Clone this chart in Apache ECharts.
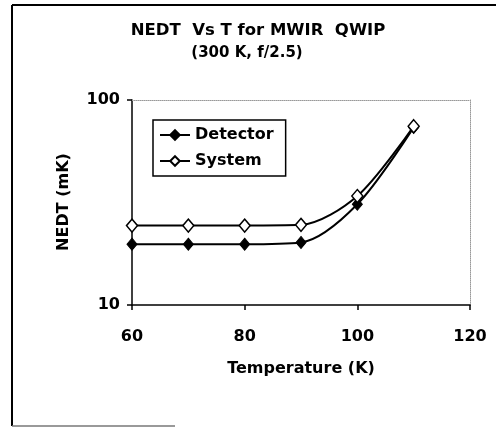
<!DOCTYPE html>
<html>
<head>
<meta charset="utf-8">
<script src="https://cdn.jsdelivr.net/npm/echarts@6/dist/echarts.min.js"></script>
<style>html,body{margin:0;padding:0;background:#fff;}#c{width:496px;height:428px;}</style>
</head>
<body>
<div id="c"></div>
<script>
const temps = [60, 70, 80, 90, 100, 110];
const detector = [19.8, 19.8, 19.8, 20.2, 31.0, 73.5];
const system = [24.4, 24.4, 24.4, 24.6, 34.0, 74.5];
const xTicks = [60, 80, 100, 120];
const yTicks = [10, 100];
const titleLine1 = 'NEDT  Vs T for MWIR  QWIP';
const titleLine2 = '(300 K, f/2.5)';

const FONT = 'DejaVu Sans';
const chart = echarts.init(document.getElementById('c'), null, {renderer: 'canvas'});
const toPairs = arr => temps.map((t, i) => [t, arr[i]]);

chart.setOption({
  animation: false,
  backgroundColor: '#fff',
  grid: {left: 132, right: 26, top: 100, bottom: 123},
  legend: {
    orient: 'vertical', left: 153, top: 120,
    borderColor: '#000', borderWidth: 1.5, padding: [7, 12, 7, 6],
    itemWidth: 30, itemHeight: 12, itemGap: 10,
    textStyle: {fontFamily: FONT, fontWeight: 'bold', fontSize: 16, color: '#000'},
    data: ['Detector', 'System']
  },
  xAxis: [{
    type: 'value', min: xTicks[0], max: xTicks[xTicks.length - 1], interval: 20,
    axisLine: {lineStyle: {color: '#000', width: 1.5}},
    axisTick: {show: true, length: 5, lineStyle: {color: '#000', width: 1.5}},
    splitLine: {show: false},
    axisLabel: {margin: 24, fontFamily: FONT, fontWeight: 'bold', fontSize: 16, color: '#000'},
    name: 'Temperature (K)', nameLocation: 'middle', nameGap: 56,
    nameTextStyle: {fontFamily: FONT, fontWeight: 'bold', fontSize: 16, color: '#000'}
  }, {
    type: 'value', position: 'top', min: xTicks[0], max: xTicks[xTicks.length - 1],
    axisLine: {show: true, lineStyle: {color: '#999', type: 'dotted', width: 1}},
    axisTick: {show: false}, axisLabel: {show: false}, splitLine: {show: false}
  }],
  yAxis: [{
    type: 'log', logBase: 10, min: yTicks[0], max: yTicks[yTicks.length - 1],
    axisLine: {show: true, lineStyle: {color: '#000', width: 1.5}},
    axisTick: {show: true, length: 5, lineStyle: {color: '#000', width: 1.5}},
    splitLine: {show: false}, minorTick: {show: false},
    axisLabel: {margin: 12, fontFamily: FONT, fontWeight: 'bold', fontSize: 16, color: '#000'}
  }, {
    type: 'log', logBase: 10, position: 'right', min: yTicks[0], max: yTicks[yTicks.length - 1],
    axisLine: {show: true, lineStyle: {color: '#999', type: 'dotted', width: 1}},
    axisTick: {show: false}, axisLabel: {show: false}, splitLine: {show: false}
  }],
  graphic: [
    {type: 'line', shape: {x1: 12, y1: 5, x2: 496, y2: 5}, style: {stroke: '#000', lineWidth: 2}},
    {type: 'line', shape: {x1: 12, y1: 5, x2: 12, y2: 426}, style: {stroke: '#000', lineWidth: 2}},
    {type: 'line', shape: {x1: 12, y1: 426, x2: 175, y2: 426}, style: {stroke: '#777', lineWidth: 1.5}},
    {type: 'text', x: 258, y: 31, style: {text: titleLine1, fontFamily: FONT, fontWeight: 'bold', fontSize: 16.5, fill: '#000', align: 'center', verticalAlign: 'middle'}},
    {type: 'text', x: 247, y: 53, style: {text: titleLine2, fontFamily: FONT, fontWeight: 'bold', fontSize: 15, fill: '#000', align: 'center', verticalAlign: 'middle'}},
    {type: 'text', x: 64, y: 202, rotation: Math.PI / 2, style: {text: 'NEDT (mK)', fontFamily: FONT, fontWeight: 'bold', fontSize: 16, fill: '#000', align: 'center', verticalAlign: 'middle'}}
  ],
  series: [{
    name: 'Detector', type: 'line', data: toPairs(detector), smooth: 0.3,
    symbol: 'diamond', symbolSize: [10, 12],
    lineStyle: {color: '#000', width: 2},
    itemStyle: {color: '#000', borderColor: '#000', borderWidth: 1}
  }, {
    name: 'System', type: 'line', data: toPairs(system), smooth: 0.3,
    symbol: 'diamond', symbolSize: [11, 13],
    lineStyle: {color: '#000', width: 2},
    itemStyle: {color: '#fff', borderColor: '#000', borderWidth: 1.5}
  }]
});
</script>
</body>
</html>
